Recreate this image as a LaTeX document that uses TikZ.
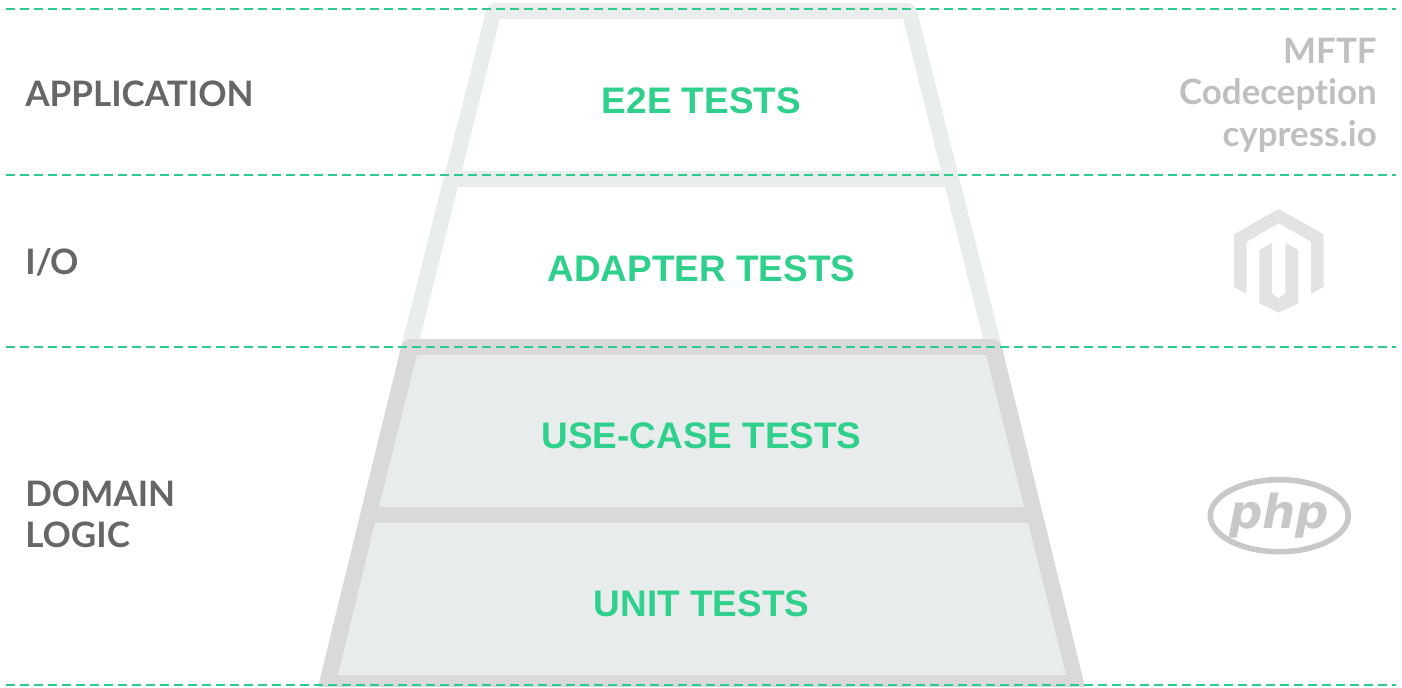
\documentclass[tikz,border=0pt]{standalone}
\usepackage{fontspec}
\setmainfont[Ligatures={NoCommon}]{Lato}
\newfontfamily\arialf[Kerning=Off]{Liberation Sans}
\newfontfamily\phpf{DejaVu Sans}
\definecolor{dashgreen}{HTML}{2ECC8B}
\definecolor{testgreen}{HTML}{2FD08C}
\definecolor{lightframe}{HTML}{E9EDED}
\definecolor{darkframe}{HTML}{D9D9D9}
\definecolor{panel}{HTML}{E9ECED}
\definecolor{layertext}{HTML}{666666}
\definecolor{tooltext}{HTML}{BFBFBF}
\definecolor{logoa}{HTML}{E3E3E3}
\definecolor{logob}{HTML}{C8C8C8}
\tikzset{
  sepline/.style={dashgreen,line width=1.8pt,dash pattern=on 6.5pt off 4pt},
  testlabel/.style={anchor=base,text=testgreen,font=\arialf\bfseries\fontsize{27.7}{30}\selectfont,inner sep=0pt},
  layerlabel/.style={anchor=base west,text=layertext,font=\bfseries\fontsize{26.3}{30}\selectfont,inner sep=0pt},
  toollabel/.style={anchor=base east,text=tooltext,font=\bfseries\fontsize{26.2}{30}\selectfont,inner sep=0pt},
}
\begin{document}
\begin{tikzpicture}[x=0.75pt,y=-0.75pt]
\useasboundingbox (0,0) rectangle (1402,687);
% light upper frame
\fill[lightframe,rounded corners=6] (399,355) -- (488,3) -- (915,3) -- (1004,355) -- cycle;
\fill[white] (500,19) -- (903,19) -- (941,171) -- (462,171) -- cycle;
\fill[white] (458,187) -- (945,187) -- (983,339) -- (420,339) -- cycle;
% dark lower frame
\path[fill=darkframe] (318,687) [rounded corners=6] -- (403,339) -- (1000,339) [sharp corners] -- (1085,687) -- cycle;
\fill[panel] (417,355) -- (986,355) -- (1024,507) -- (379,507) -- cycle;
\fill[panel] (375,523) -- (1028,523) -- (1066,675) -- (338,675) -- cycle;
% dashed rules
\foreach \yy in {9,175,347,685}{
  \coordinate (ruleL\yy) at (6,\yy);
  \coordinate (ruleR\yy) at (1396,\yy);
  \draw[sepline] (ruleL\yy) -- (ruleR\yy);
}
% test labels
\node[testlabel] (e2e) at (701.5,113) {E2E TESTS};
\node[testlabel] (adapter) at (701.5,281) {ADAPTER TESTS};
\node[testlabel] (usecase) at (701.5,448) {USE-CASE TESTS};
\node[testlabel] (unit) at (701.5,616) {UNIT TESTS};
% layer labels
\node[layerlabel] (app) at (25,106) {APPLICATION};
\node[layerlabel] (io) at (25,274) {I/\kern-1.5pt O};
\node[layerlabel] (domain) at (25,506) {DOMAIN};
\node[layerlabel] (logic) at (25,547) {LOGIC};
% tools
\node[toollabel] (mftf) at (1377,63) {MFTF};
\node[toollabel] (codecept) at (1377,104) {Codeception};
\node[toollabel] (cypress) at (1377,146) {cypress.io};
% magento logo
\fill[logoa] (1278.7,209) -- (1323.7,234.3) -- (1323.7,286.7) -- (1311,294) -- (1311,241.7) -- (1278.7,223.3) -- (1246.7,241.7) -- (1246.7,294) -- (1234,286.7) -- (1234,234.3) -- cycle;
\fill[logoa] (1259.3,250) -- (1272,242.7) -- (1272,293.3) -- (1278.7,298.3) -- (1285.3,293.3) -- (1285.3,242.7) -- (1298.3,250) -- (1298.3,303.3) -- (1278.7,312.7) -- (1259.3,303.3) -- cycle;
% php logo
\draw[logob,line width=4.2pt] (1279.3,515.7) ellipse [x radius=69,y radius=36];
\node[anchor=base,inner sep=0pt,text=logob,font=\phpf\bfseries\itshape\fontsize{35}{40}\selectfont] (php) at (1279,528) {php};
\end{tikzpicture}
\end{document}
